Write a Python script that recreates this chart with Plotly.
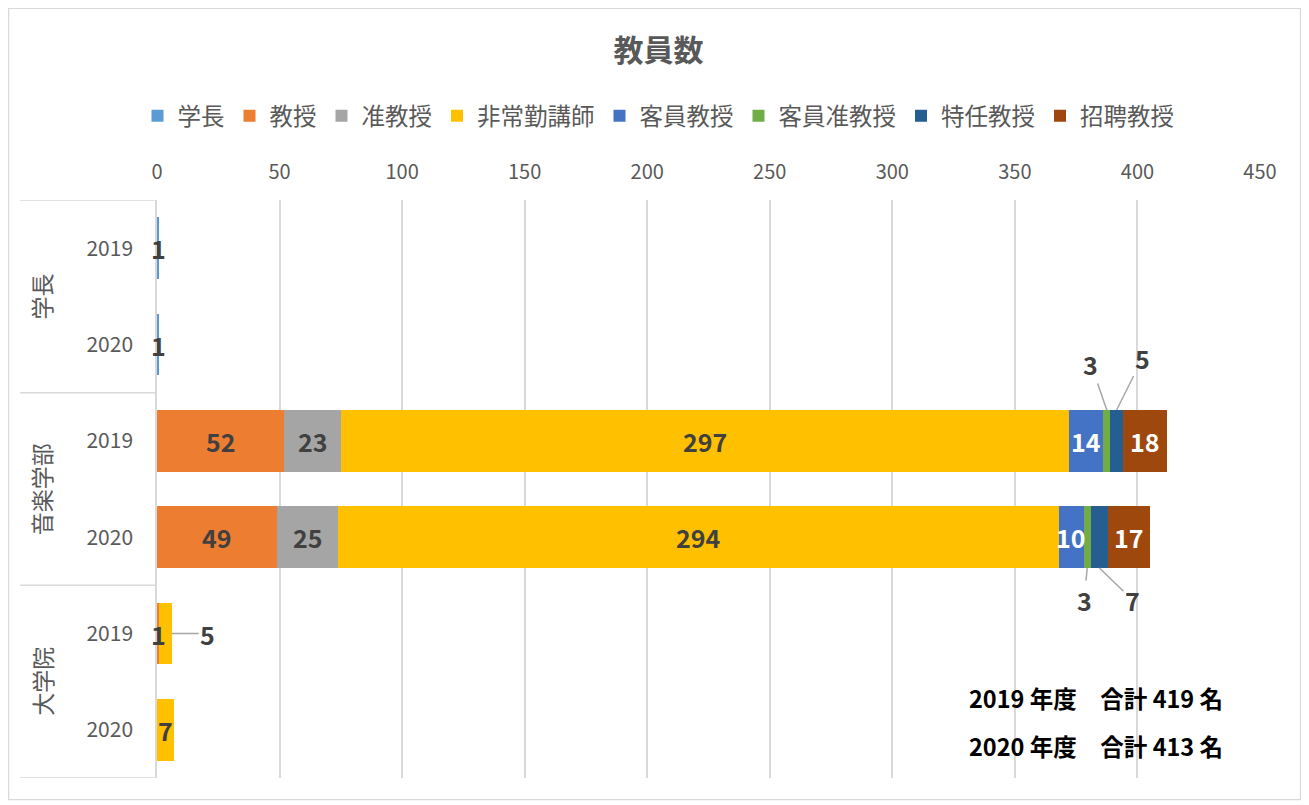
import plotly.graph_objects as go

# ---------------- data ----------------
groups = ["学長", "音楽学部", "大学院"]
years = ["2019", "2020", "2019", "2020", "2019", "2020"]
series_names = ["学長", "教授", "准教授", "非常勤講師", "客員教授", "客員准教授", "特任教授", "招聘教授"]
v_gakucho = [1, 1, None, None, None, None]
v_kyoju = [None, None, 52, 49, 1, None]
v_junkyoju = [None, None, 23, 25, None, None]
v_hijokin = [None, None, 297, 294, 5, 7]
v_kyakuin = [None, None, 14, 10, None, None]
v_kyakuin_jun = [None, None, 3, 3, None, None]
v_tokunin = [None, None, 5, 7, None, None]
v_shohei = [None, None, 18, 17, None, None]
totals_text = ["2019 年度　合計 419 名", "2020 年度　合計 413 名"]
x_ticks = [0, 50, 100, 150, 200, 250, 300, 350, 400, 450]

series_values = [v_gakucho, v_kyoju, v_junkyoju, v_hijokin, v_kyakuin,
                 v_kyakuin_jun, v_tokunin, v_shohei]
colors = ["#5B9BD5", "#ED7D31", "#A5A5A5", "#FFC000", "#4472C4",
          "#70AD47", "#255E91", "#9E480E"]
label_colors = ["#404040", "#404040", "#404040", "#404040", "#FFFFFF",
                "#404040", "#404040", "#FFFFFF"]

# labels drawn with leader lines (series index, row index) -> pixel offset of text
leader = {(5, 2): (-16, -46, "top"), (6, 2): (26, -52, "top"),
          (5, 3): (-3, 32, "bottom"), (6, 3): (33, 32, "bottom"),
          (3, 4): (36, 0, "end")}

FONT = "Noto Sans CJK JP"
ypos = list(range(len(years)))
BAR_W = 0.64
LBL = 25

fig = go.Figure()
cum = [0.0] * len(years)
annotations = []
for si, (name, vals, col, lc) in enumerate(zip(series_names, series_values, colors, label_colors)):
    for ri, v in enumerate(vals):
        if v is None:
            continue
        if (si, ri) in leader:
            ax, ay, where = leader[(si, ri)]
            if where == "top":
                tx, ty = cum[ri] + v / 2, ri - BAR_W / 2
            elif where == "bottom":
                tx, ty = cum[ri] + v / 2, ri + BAR_W / 2
            else:
                tx, ty = cum[ri] + v, ri
            annotations.append(dict(x=tx, y=ty, xref="x", yref="y", text=str(v),
                                    showarrow=True, arrowhead=0, arrowwidth=1.5,
                                    arrowcolor="#A6A6A6", ax=ax, ay=ay, standoff=0,
                                    font=dict(family=FONT, size=LBL, color="#404040", weight="bold")))
        else:
            annotations.append(dict(x=cum[ri] + v / 2, y=ri, xref="x", yref="y", text=str(v),
                                    showarrow=False, xanchor="center", yanchor="middle",
                                    font=dict(family=FONT, size=LBL, color=lc, weight="bold")))
        cum[ri] += v
    fig.add_trace(go.Bar(
        y=ypos, x=vals, name=name, orientation="h", width=BAR_W,
        marker=dict(color=col, line=dict(width=0)),
        hoverinfo="x+name",
    ))

# group labels (vertical)
for gi, g in enumerate(groups):
    annotations.append(dict(x=-0.105, y=gi * 2 + 0.5, xref="paper", yref="y",
                            xanchor="center", yanchor="middle",
                            text=g, textangle=-90, showarrow=False,
                            font=dict(family=FONT, size=23, color="#595959")))

# totals
for ti, t in enumerate(totals_text):
    annotations.append(dict(x=0.734, y=[0.138, 0.055][ti], xref="paper", yref="paper",
                            xanchor="left", yanchor="middle", text=t, showarrow=False,
                            font=dict(family=FONT, size=23.5, color="#000000", weight="bold")))

shapes = []
for b in [-0.5, 1.5, 3.5, 5.5]:
    shapes.append(dict(type="line", xref="paper", yref="y", x0=-0.124, x1=0, y0=b, y1=b,
                       line=dict(color="#D9D9D9", width=1.5)))
shapes.append(dict(type="rect", xref="paper", yref="paper", x0=-0.1345, x1=1.0367,
                   y0=-0.0375, y1=1.3313, line=dict(color="#D9D9D9", width=1.2)))

fig.update_layout(
    barmode="stack",
    width=1301, height=797,
    margin=dict(l=149, r=49, t=192, b=27),
    paper_bgcolor="white", plot_bgcolor="white",
    font=dict(family=FONT, color="#595959"),
    title=dict(text="<b>教員数</b>", x=0.5, xref="container", y=1 - 42 / 797,
               yref="container", yanchor="middle", xanchor="center",
               font=dict(family=FONT, size=30, color="#595959")),
    legend=dict(orientation="h", x=0.5, xanchor="center", xref="container",
                y=1 - 108 / 797, yref="container", yanchor="middle",
                font=dict(family=FONT, size=23.5, color="#595959"),
                traceorder="normal", itemwidth=30),
    xaxis=dict(side="top", range=[0, 450], tickvals=x_ticks, showgrid=True,
               gridcolor="#D9D9D9", gridwidth=1.5, zeroline=False, showline=False,
               tickfont=dict(family=FONT, size=20, color="#595959"),
               ticklabelstandoff=16),
    yaxis=dict(tickvals=ypos, ticktext=years, range=[5.5, -0.5], showgrid=False,
               zeroline=False, showline=True, linecolor="#D9D9D9", linewidth=1.5,
               tickfont=dict(family=FONT, size=21, color="#595959"),
               ticklabelstandoff=18),
    annotations=annotations, shapes=shapes,
)

fig.write_html("out.html")
